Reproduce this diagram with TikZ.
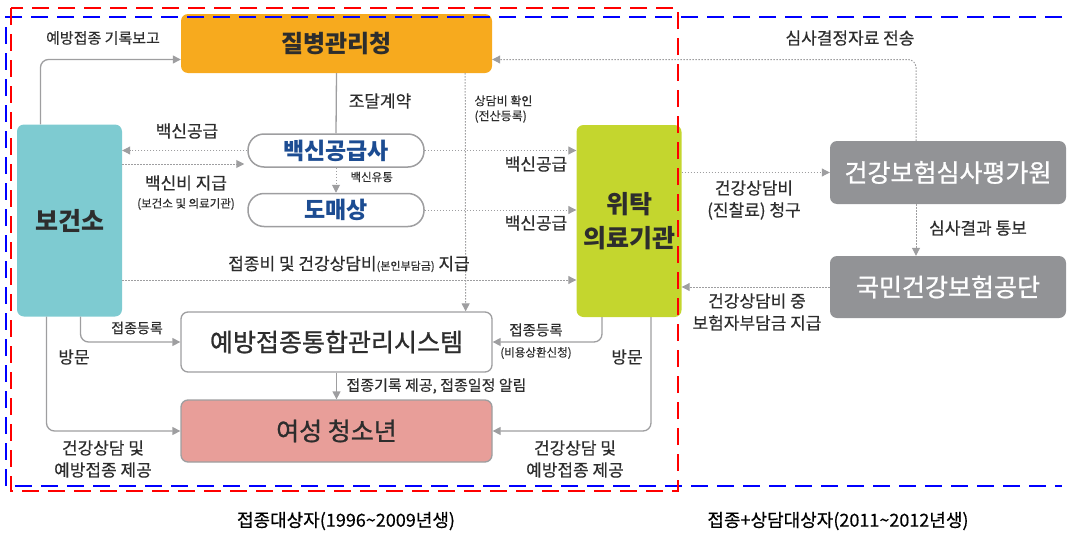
\documentclass[tikz,border=0pt]{standalone}
\usepackage{fontspec}
\setmainfont{Noto Sans CJK KR}
\newfontfamily\medfont[FakeBold=1]{Noto Sans CJK KR}
\newfontfamily\lblfont[FakeBold=0.4]{Noto Sans CJK KR}
\usetikzlibrary{arrows.meta,calc}
\definecolor{kdcaorange}{RGB}{247,170,30}
\definecolor{phcteal}{RGB}{126,203,209}
\definecolor{clinicgreen}{RGB}{196,214,46}
\definecolor{girlspink}{RGB}{232,158,153}
\definecolor{boxgray}{RGB}{146,147,150}
\definecolor{linegray}{RGB}{158,158,160}
\definecolor{textgray}{RGB}{45,45,45}
\definecolor{supplyblue}{RGB}{28,76,146}

\begin{document}
\begin{tikzpicture}
      [x = 1pt, y = -1pt,
      every node/.style = {text = textgray},
      bigbox/.style = {
         rounded corners = 7pt,
         minimum width = 311pt,
         inner sep = 0pt,
         font = \fontsize{24}{28}\selectfont\bfseries
      },
      sidebox/.style = {
         rounded corners = 7pt,
         minimum width = 105pt,
         minimum height = 192pt,
         inner sep = 0pt,
         font = \fontsize{25}{34}\selectfont\bfseries,
         align = center
      },
      graybox/.style = {
         fill = boxgray,
         rounded corners = 7pt,
         minimum width = 236pt,
         inner sep = 0pt,
         text = white,
         font = \fontsize{25}{28}\selectfont\medfont
      },
      pill/.style = {
         draw = linegray,
         line width = 1.5pt,
         fill = white,
         rounded corners = 16pt,
         minimum width = 176pt,
         minimum height = 33pt,
         inner sep = 0pt,
         text = supplyblue,
         font = \fontsize{23}{26}\selectfont\bfseries
      },
      lbl/.style = {font = \fontsize{17}{22}\selectfont\lblfont, align = center},
      small/.style = {font = \fontsize{11.5}{14}\selectfont\lblfont, align = center},
      flow/.style = {
         draw = linegray,
         line width = 1.3pt,
         -{Triangle[length = 8pt, width = 8pt]}
      },
      dotflow/.style = {
         draw = linegray,
         line width = 1pt,
         dash pattern = on 1.5pt off 1.5pt,
         -{Triangle[length = 8pt, width = 8pt]}
      },
      frame/.style = {
         line width = 2.2pt,
         dash pattern = on 17pt off 9pt
      }]
      \useasboundingbox (0, 0) rectangle (1069, 533);

      \node[bigbox, fill = kdcaorange, minimum height = 59pt] (kdca) at (336.5, 43.5) {질병관리청};
      \node[sidebox, fill = phcteal] (phc) at (69.5, 220.5) {보건소};
      \node[sidebox, fill = clinicgreen] (clinic) at (629, 221) {위탁\\의료기관};
      \node[pill] (supplier) at (336, 150.5) {백신공급사};
      \node[pill] (wholesale) at (336, 210) {도매상};
      \node[bigbox, draw = linegray, line width = 1.3pt, fill = white,
         minimum height = 60pt, font = \fontsize{25}{28}\selectfont\medfont] (nip) at (336.5, 342) {예방접종통합관리시스템};
      \node[bigbox, draw = linegray, line width = 1.3pt, fill = girlspink,
         minimum height = 62pt, font = \fontsize{25}{28}\selectfont\medfont] (girls) at (336.5, 431) {여성 청소년};
      \node[graybox, minimum height = 63pt] (hira) at (948, 172.5) {건강보험심사평가원};
      \node[graybox, minimum height = 62pt] (nhis) at (948, 287) {국민건강보험공단};

      \coordinate (payY) at (0, 280);
      \coordinate (feeY) at (0, 164);

      \draw[flow, rounded corners = 8pt] ($(phc.north)+(-29, 0)$) |- ($(kdca.west)+(0, 16)$);
      \node[lbl, font = \fontsize{15}{19}\selectfont\lblfont] (reportlbl) at (103, 38) {예방접종 기록보고};

      \draw[draw = linegray, line width = 1.3pt] (kdca.south) -- (supplier.north);
      \node[lbl] (contractlbl) at (380, 101) {조달계약};

      \draw[dotflow] ($(kdca.south east)+(-27, 0)$) -- ($(nip.north east)+(-27, 0)$);
      \node[small, font = \fontsize{12}{15}\selectfont\lblfont, align = left, anchor = west] (checklbl) at (471, 109) {상담비 확인\\(전산등록)};

      \draw[dotflow] (supplier.west) -- (supplier.west -| phc.east);
      \node[lbl] (supplylbl) at (187, 131) {백신공급};
      \draw[dotflow] (phc.east |- feeY) -- ($(supplier.west |- feeY)+(-3, 0)$);
      \node[lbl] (feelbl) at (186, 183) {백신비 지급};
      \node[small] (feesublbl) at (186, 204) {(보건소 및 의료기관)};

      \draw[dotflow] (supplier.south) -- (wholesale.north);
      \node[small, anchor = west] (distlbl) at (347, 177) {백신유통};

      \draw[dotflow] (supplier.east) -- (supplier.east -| clinic.west);
      \node[lbl] (supplylblb) at (536, 164) {백신공급};
      \draw[dotflow] (wholesale.east) -- (wholesale.east -| clinic.west);
      \node[lbl] (supplylblc) at (536, 223) {백신공급};

      \draw[dotflow] (phc.east |- payY) -- (clinic.west |- payY);
      \node[lbl] (paylbl) at (349, 264) {접종비 및 건강상담비{\fontsize{11}{13}\selectfont(본인부담금)} 지급};

      \draw[dotflow] (clinic.east |- hira.west) -- (hira.west);
      \node[lbl] (claimlbl) at (754, 200) {건강상담비\\(진찰료) 청구};

      \draw[dotflow, rounded corners = 8pt] ($(hira.north)+(-32, 0)$) |- ($(kdca.east)+(0, 16)$);
      \node[lbl] (sendlbl) at (850, 38) {심사결정자료 전송};

      \draw[dotflow] ($(hira.south)+(-32, 0)$) -- ($(nhis.north)+(-32, 0)$);
      \node[lbl] (resultlbl) at (978, 228) {심사결과 통보};

      \draw[dotflow] (nhis.west) -- (clinic.east |- nhis.west);
      \node[lbl] (paybacklbl) at (757, 312) {건강상담비 중\\보험자부담금 지급};

      \draw[flow, rounded corners = 8pt] ($(phc.south)+(11, 0)$) |- (nip.west);
      \node[lbl, font = \fontsize{14}{17}\selectfont\lblfont] (reglbl) at (137, 328) {접종등록};

      \draw[flow, rounded corners = 8pt] ($(clinic.south)+(-27, 0)$) |- (nip.east);
      \node[lbl, font = \fontsize{14.5}{18}\selectfont\lblfont] (reglblb) at (536, 330) {접종등록};
      \node[small] (refundlbl) at (536, 353) {(비용상환신청)};

      \draw[flow] (nip.south) -- (girls.north);
      \node[lbl, font = \fontsize{15}{19}\selectfont\lblfont, anchor = west] (noticelbl) at (343, 386) {접종기록 제공, 접종일정 알림};

      \draw[flow, {Triangle[length = 8pt, width = 8pt]}-, rounded corners = 8pt] (girls.west) -| ($(phc.south)+(-23, 0)$);
      \node[lbl] (visitlbl) at (74, 357) {방문};
      \node[lbl] (carelbl) at (103, 459) {건강상담 및\\예방접종 제공};

      \draw[flow, {Triangle[length = 8pt, width = 8pt]}-, rounded corners = 8pt] (girls.east) -| ($(clinic.south)+(22, 0)$);
      \node[lbl] (visitlblb) at (627, 357) {방문};
      \node[lbl] (carelblb) at (575, 459) {건강상담 및\\예방접종 제공};

      \node[lbl, font = \fontsize{18}{22}\selectfont\lblfont, text = black] (agelbl) at (346, 521) {접종대상자(1996\textasciitilde 2009년생)};
      \node[lbl, font = \fontsize{18}{22}\selectfont\lblfont, text = black] (agelblb) at (838, 521) {접종+상담대상자(2011\textasciitilde 2012년생)};

      \draw[frame, blue] (1062, 17) -- (6, 17) -- (6, 486) -- (1062, 486);
      \draw[frame, red] (11, 8) rectangle (678, 491);

   \end{tikzpicture}
\end{document}
